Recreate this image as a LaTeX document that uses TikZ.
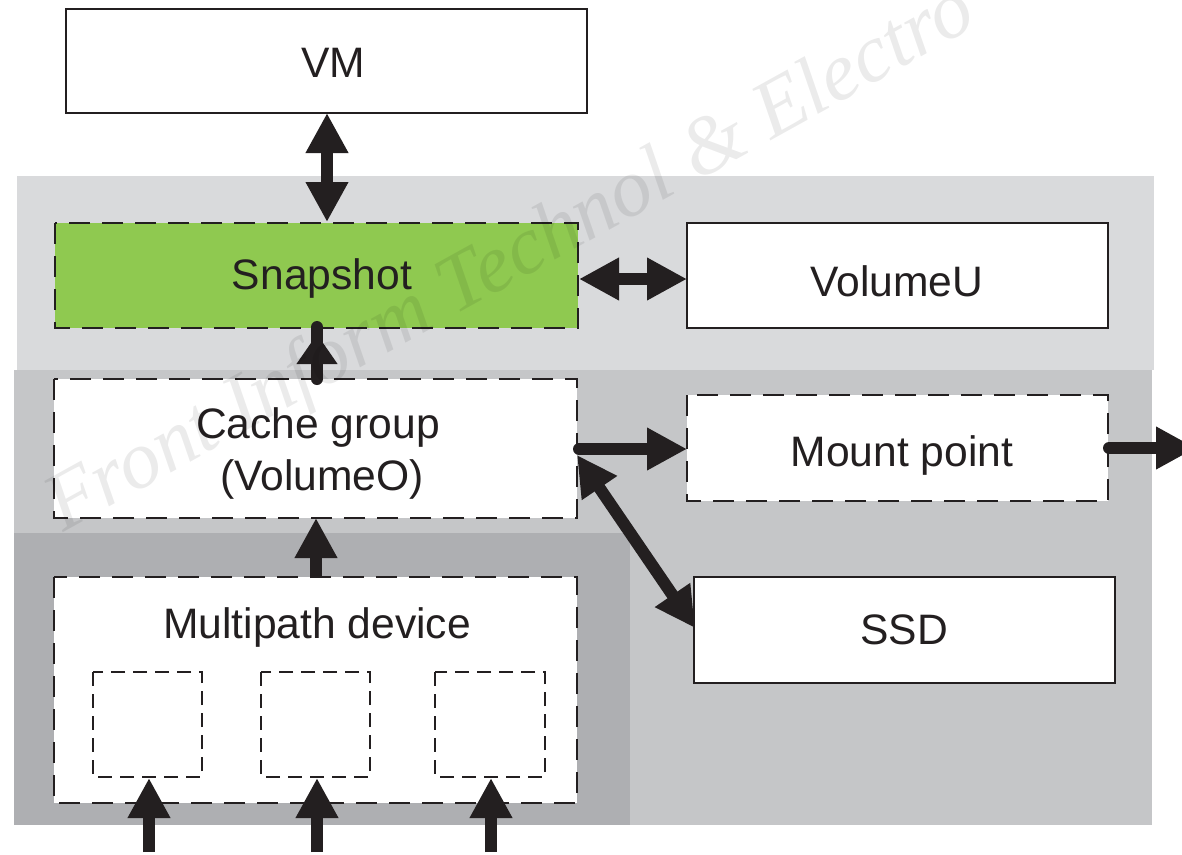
\documentclass[tikz,border=0pt]{standalone}
\usepackage{fontspec}
\setmainfont{Liberation Sans}
\newfontfamily\wmfont{Liberation Serif}
\usetikzlibrary{arrows.meta}
\definecolor{bandA}{HTML}{D9DADC}
\definecolor{bandB}{HTML}{C5C6C8}
\definecolor{bandC}{HTML}{AEAFB2}
\definecolor{snapgreen}{HTML}{8FC950}
\definecolor{ink}{HTML}{231F20}
\tikzset{
 band/.style={fill=#1,draw=none},
 solidbox/.style={draw=ink,line width=2.2pt,fill=white},
 dashbox/.style={draw=ink,line width=2.4pt,fill=white,dash pattern=on 21pt off 12pt},
 smallbox/.style={draw=ink,line width=2.2pt,fill=white,dash pattern=on 14pt off 8pt},
 lbl/.style={text=ink,font=\fontsize{42.6}{52}\selectfont,align=center},
 fat/.style={draw=ink,line width=12pt,line cap=butt},
 fatround/.style={draw=ink,line width=12pt,line cap=round},
 headone/.style={-{Triangle[length=40pt,width=40pt]}},
 headtwo/.style={{Triangle[length=40pt,width=40pt]}-{Triangle[length=40pt,width=40pt]}},
 headshort/.style={-{Triangle[length=30pt,width=39pt]}},
}
\begin{document}
\begin{tikzpicture}[x=1pt,y=-1pt]
\useasboundingbox (0,0) rectangle (1182,854);
\fill[white] (0,0) rectangle (1182,854);
% bands
\path[band=bandA] (17,176) rectangle (1154,370);
\path[band=bandB] (14,370) rectangle (1152,825);
\path[band=bandC] (14,533) rectangle (630,825);
% boxes
\path[solidbox] (66,9) rectangle (587,113);
\node[lbl] (vmt) at (333,63) {VM};
\path[dashbox,fill=snapgreen] (55,223) rectangle (578,328);
\node[lbl] (snap) at (322,278) {Snapshot};
\path[solidbox] (687,223) rectangle (1108,328);
\node[lbl] (volu) at (897,281) {VolumeU};
\path[dashbox] (54,379) rectangle (577,518);
\node[lbl] (cache) at (318,453) {Cache group\\\hspace*{8pt}(VolumeO)};
\path[dashbox] (687,395) rectangle (1108,501);
\node[lbl] (mount) at (902,455) {Mount point};
\path[solidbox] (694,577) rectangle (1115,683);
\node[lbl] (ssd) at (904,630) {SSD};
\path[dashbox] (54,577) rectangle (577,803);
\node[lbl] (multi) at (317,627) {Multipath device};
\path[smallbox] (93,672) rectangle (202,777);
\path[smallbox] (261,672) rectangle (370,777);
\path[smallbox] (435,672) rectangle (545,777);
% anchors
\coordinate (vmb) at (327,113);
\coordinate (snt) at (327,222);
\coordinate (snr) at (579,279);
\coordinate (vul) at (687,279);
\coordinate (snb) at (317,327);
\coordinate (sna) at (317,334);
\coordinate (cat) at (317,379);
\coordinate (cab) at (316,518);
\coordinate (mut) at (316,578);
\coordinate (car) at (579,449);
\coordinate (mpl) at (687,449);
\coordinate (mpr) at (1109,448);
\coordinate (mpo) at (1196,448);
\coordinate (casl) at (577,455);
\coordinate (ssl) at (695,628);
\coordinate (a1) at (149,852);
\coordinate (a1t) at (149,778);
\coordinate (a2) at (317,852);
\coordinate (a2t) at (317,778);
\coordinate (a3) at (491,852);
\coordinate (a3t) at (491,778);
% connectors
\draw[fat,headtwo] (vmb) -- (snt);
\draw[fat,headtwo] (snr) -- (vul);
\draw[fatround] (cat) -- (snb);
\draw[fat,headshort] (cat) -- (sna);
\draw[fat,headone] (mut) -- (cab);
\draw[fatround,headone] (car) -- (mpl);
\draw[fatround,headone] (mpr) -- (mpo);
\draw[fat,headtwo] (casl) -- (ssl);
\draw[fat,headone] (a1) -- (a1t);
\draw[fat,headone] (a2) -- (a2t);
\draw[fat,headone] (a3) -- (a3t);
% watermark
\node[text=black,text opacity=0.08,font=\wmfont\itshape\fontsize{82}{90}\selectfont,rotate=29,anchor=base west,inner sep=0pt] (wmark) at (63,533) {Front Inform Technol \& Electro};
\end{tikzpicture}
\end{document}
